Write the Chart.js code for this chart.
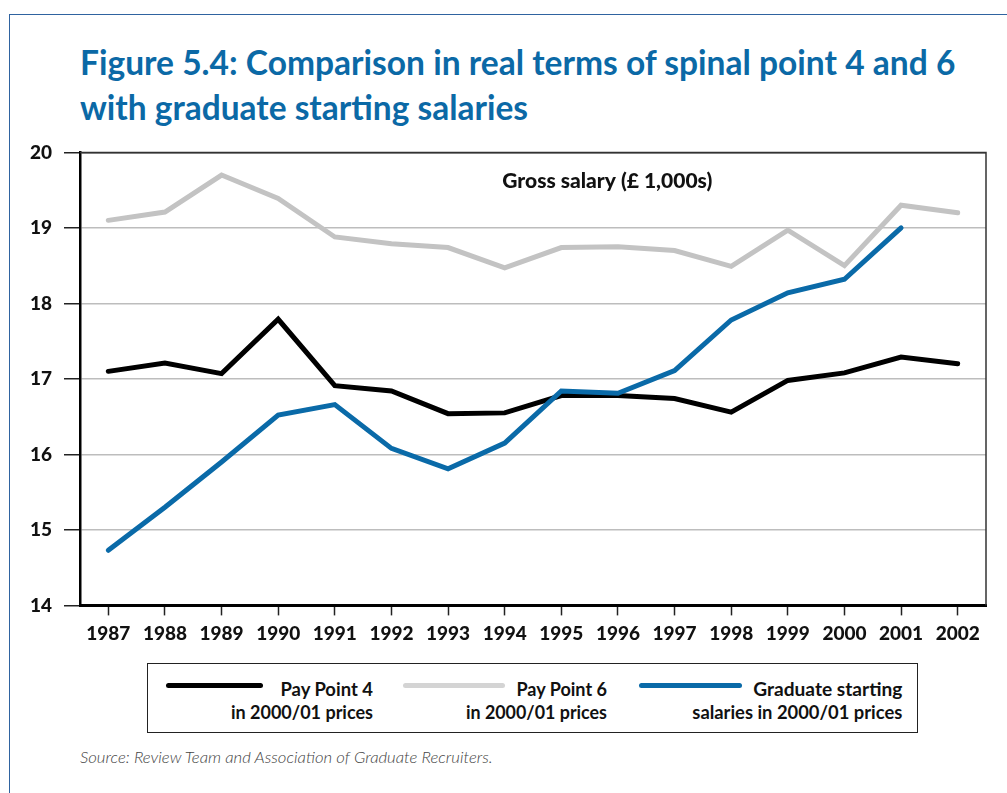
<!DOCTYPE html>
<html>
<head>
<meta charset="utf-8">
<script src="https://cdn.jsdelivr.net/npm/chart.js@4.4.1/dist/chart.umd.min.js"></script>
<style>
  html, body { margin:0; padding:0; background:#fff; }
  body { width:1007px; height:793px; overflow:hidden; position:relative; font-family: Lato, "Open Sans", sans-serif; }
  .frame { position:absolute; left:9px; top:14px; width:1100px; height:900px; border:1.5px solid #2f63a0; box-sizing:border-box; }
  .title { position:absolute; left:80px; top:39px; margin:0; font-family:Lato, sans-serif; font-weight:700; font-size:35px; line-height:45px; color:#0b69a6; }
  .title span { display:block; white-space:nowrap; transform-origin:0 0; }
  #wrap { position:absolute; left:0; top:140px; width:1007px; height:520px; }
  .legend { position:absolute; left:147px; top:663px; width:771px; height:70px; border:1.5px solid #222; box-sizing:border-box; }
  .sample { position:absolute; height:5px; border-radius:3px; }
  .ltext { position:absolute; white-space:nowrap; font-family:Lato, sans-serif; font-weight:700; font-size:19px; line-height:23px; color:#111; }
  .ltext span { display:block; transform-origin:100% 50%; text-align:right; }
  .source { position:absolute; left:80px; top:747px; font-family:Lato, sans-serif; font-style:italic; font-weight:300; font-size:16px; color:#444; white-space:nowrap; transform-origin:0 0; }
</style>
</head>
<body>
<div class="frame"></div>
<h1 class="title"><span id="t1">Figure 5.4: Comparison in real terms of spinal point 4 and 6</span><span id="t2">with graduate starting salaries</span></h1>
<div id="wrap"><canvas id="c" width="1007" height="520"></canvas></div>
<div class="legend" id="legend"></div>
<div class="source" id="src">Source: Review Team and Association of Graduate Recruiters.</div>
<script>
// ---- data ----
const years = ['1987','1988','1989','1990','1991','1992','1993','1994','1995','1996','1997','1998','1999','2000','2001','2002'];
const payPoint4 = [17.10, 17.21, 17.07, 17.79, 16.91, 16.84, 16.54, 16.55, 16.78, 16.78, 16.74, 16.56, 16.98, 17.08, 17.29, 17.20];
const payPoint6 = [19.10, 19.21, 19.70, 19.39, 18.88, 18.79, 18.74, 18.47, 18.74, 18.75, 18.70, 18.49, 18.97, 18.50, 19.30, 19.20];
const graduate  = [14.73, 15.30, 15.90, 16.52, 16.66, 16.08, 15.81, 16.15, 16.84, 16.81, 17.11, 17.78, 18.14, 18.32, 19.00, null];
const seriesNames = [['Pay Point 4','in 2000/01 prices'], ['Pay Point 6','in 2000/01 prices'], ['Graduate starting','salaries in 2000/01 prices']];
const yTicks = [14, 15, 16, 17, 18, 19, 20];
const panelLabel = 'Gross salary (\u00A3 1,000s)';

// ---- helpers to fit text lines to reference widths ----
const mctx = document.createElement('canvas').getContext('2d');
function fitEl(el, target) {
  const cs = getComputedStyle(el);
  mctx.font = cs.fontStyle + ' ' + cs.fontWeight + ' ' + cs.fontSize + ' ' + cs.fontFamily;
  const w = mctx.measureText(el.textContent).width;
  el.style.transform = 'scaleX(' + (target / w).toFixed(4) + ')';
}
fitEl(document.getElementById('t1'), 876);
fitEl(document.getElementById('t2'), 448);
fitEl(document.getElementById('src'), 414);

const colors = ['#000000', '#c3c3c3', '#0a6aa8'];
const data = [payPoint4, payPoint6, graduate];
const tickFont = { family: 'Lato, sans-serif', weight: '900', size: 19 };

const framePlugin = {
  id: 'frame',
  afterDatasetsDraw(chart) {
    const { ctx, chartArea: a } = chart;
    ctx.save();
    ctx.strokeStyle = '#333';
    ctx.lineWidth = 1.5;
    ctx.beginPath();
    ctx.moveTo(a.left, a.top);
    ctx.lineTo(a.right, a.top);
    ctx.lineTo(a.right, a.bottom);
    ctx.stroke();
    ctx.fillStyle = '#111';
    ctx.font = '900 21px Lato, sans-serif';
    ctx.textAlign = 'center';
    ctx.textBaseline = 'middle';
    ctx.fillText(panelLabel, a.left + 0.582 * (a.right - a.left), a.top + 29);
    ctx.restore();
  }
};

const chart = new Chart(document.getElementById('c'), {
  type: 'line',
  data: {
    labels: years,
    datasets: data.map((d, i) => ({
      label: seriesNames[i].join(' '),
      data: d,
      borderColor: colors[i],
      backgroundColor: colors[i],
      borderWidth: 5,
      pointRadius: 0,
      tension: 0,
      borderCapStyle: 'round',
      borderJoinStyle: 'miter',
      spanGaps: false,
      order: [1, 2, 0][i]
    }))
  },
  options: {
    responsive: false,
    maintainAspectRatio: false,
    animation: false,
    devicePixelRatio: 1,
    layout: { padding: { left: 0, right: 21, top: 0, bottom: 0 } },
    plugins: { legend: { display: false }, tooltip: { enabled: false } },
    scales: {
      x: {
        offset: true,
        grid: { drawOnChartArea: false, drawTicks: true, tickLength: 10, tickColor: '#222', tickWidth: 1.5 },
        border: { color: '#000', width: 3 },
        ticks: { color: '#111', padding: 7, maxRotation: 0, autoSkip: false, font: tickFont },
        afterFit(s) { s.height = 55; }
      },
      y: {
        min: yTicks[0], max: yTicks[yTicks.length - 1],
        afterBuildTicks(s) { s.ticks = yTicks.map(v => ({ value: v })); },
        grid: {
          color: c => (c.tick && c.tick.value === 20) ? '#333' : '#bdbdbd',
          lineWidth: 1.5,
          tickLength: 16, tickColor: '#222', tickWidth: 1.5
        },
        border: { color: '#000', width: 2.5 },
        ticks: { color: '#111', padding: 12, font: tickFont },
        afterFit(s) { s.width = 80; }
      }
    }
  },
  plugins: [framePlugin]
});

// place the plot area: top at 152, bottom at 605
const wrap = document.getElementById('wrap');
function place() {
  const a = chart.chartArea;
  const wrapTop = parseFloat(wrap.style.top || 140);
  const H = chart.height + (453 - (a.bottom - a.top));
  wrap.style.top = (152 - a.top) + 'px';
  wrap.style.height = H + 'px';
  chart.resize(1007, H);
}
place();
place();

// ---- HTML legend built from series names/colours ----
const legend = document.getElementById('legend');
const samples = [[165, 262, 374], [402, 504, 608], [638, 741, 903]];
const lineWidths = [[93, 142], [91, 141], [149, 210]];
seriesNames.forEach((n, i) => {
  const s = document.createElement('div');
  s.className = 'sample';
  s.style.left = (samples[i][0] - 147) + 'px';
  s.style.width = (samples[i][1] - samples[i][0]) + 'px';
  s.style.top = (685 - 663 - 3) + 'px';
  s.style.background = i === 1 ? '#d4d4d4' : colors[i];
  legend.appendChild(s);
  const t = document.createElement('div');
  t.className = 'ltext';
  t.style.right = (918 - samples[i][2]) + 'px';
  t.style.top = (676 - 663) + 'px';
  n.forEach((line) => {
    const sp = document.createElement('span');
    sp.textContent = line;
    t.appendChild(sp);
  });
  legend.appendChild(t);
  Array.from(t.children).forEach((sp, j) => fitEl(sp, lineWidths[i][j]));
});
</script>
</body>
</html>
